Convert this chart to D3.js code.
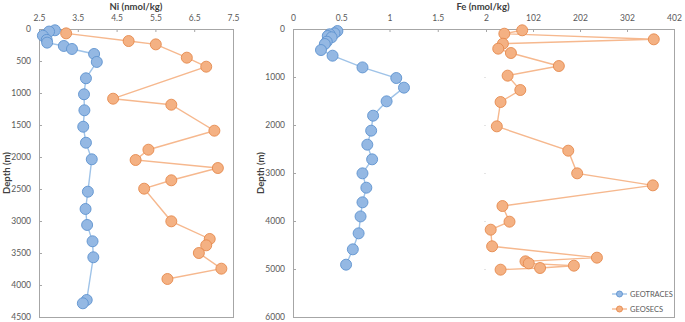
<!DOCTYPE html>
<html>
<head>
<meta charset="utf-8">
<script src="https://cdn.jsdelivr.net/npm/d3@7"></script>
<style>
  body { margin: 0; background: white; }
  text { font-family: Lato, 'Open Sans', sans-serif; }
</style>
</head>
<body>
<div id="container"></div>
<script>
// Ni profile (left panel)
let niTracesDepth = [20, 40, 105, 170, 213, 265, 312, 390, 515, 770, 1020, 1270, 1527, 1777, 2036, 2542, 2812, 3062, 3317, 3567, 4234, 4286];
let niTracesValue = [2.91, 2.76, 2.6, 2.7, 2.71, 3.14, 3.35, 3.92, 3.99, 3.71, 3.66, 3.67, 3.64, 3.71, 3.86, 3.76, 3.70, 3.74, 3.88, 3.90, 3.73, 3.63];
let niSecsDepth = [68, 188, 240, 448, 589, 1089, 1183, 1589, 1886, 2047, 2172, 2364, 2495, 3005, 3281, 3380, 3500, 3745, 3906];
let niSecsValue = [3.2, 4.81, 5.51, 6.31, 6.81, 4.41, 5.91, 7.02, 5.32, 4.99, 7.11, 5.91, 5.21, 5.91, 6.90, 6.81, 6.62, 7.20, 5.81];

// Fe profile (right panel)
let feTracesDepth = [42, 90, 110, 146, 173, 264, 313, 438, 556, 800, 1021, 1222, 1507, 1806, 2118, 2410, 2715, 3007, 3306, 3611, 3905, 4257, 4590, 4910];
let feTracesValue = [0.46, 0.43, 0.38, 0.36, 0.40, 0.35, 0.33, 0.29, 0.41, 0.72, 1.07, 1.15, 0.97, 0.83, 0.81, 0.77, 0.82, 0.72, 0.76, 0.72, 0.70, 0.68, 0.62, 0.55];
let feSecsDepth = [27, 98, 215, 306, 410, 500, 771, 972, 1271, 1521, 2028, 2535, 3007, 3257, 3688, 4014, 4181, 4527, 4764, 4840, 4882, 4931, 4979, 5014];
let feSecsValue = [79, 41, 359, 38, 28, 55, 157, 48, 75, 33, 25, 177, 196, 357, 37, 52, 12, 15, 238, 86, 93, 189, 117, 33];

let niTicks = [2.5, 3.5, 4.5, 5.5, 6.5, 7.5];
let feTicksA = [0, 0.5, 1, 1.5, 2];
let feTicksB = [102, 202, 302, 402];
let niDepthTicks = [0, 500, 1000, 1500, 2000, 2500, 3000, 3500, 4000, 4500];
let feDepthTicks = [0, 1000, 2000, 3000, 4000, 5000, 6000];
let seriesNames = ['GEOTRACES', 'GEOSECS'];

let w = 685;
let h = 322;

let viz = d3.select('#container')
  .append('svg')
    .attr('width', w)
    .attr('height', h)
    .style('background-color', 'white');

let blue = {fill: '#94b8e3', stroke: '#5f93cf', line: '#9fc3e8'};
let orange = {fill: '#f4b183', stroke: '#e58a4e', line: '#f6b88e'};
let gridGrey = '#a6a6a6';
let labelGrey = '#595959';

let plotTop = 29, plotBottom = 317;

// scales
let xNi = d3.scaleLinear().domain([2.5, 7.5]).range([39, 233]);
let yNi = d3.scaleLinear().domain([0, 4500]).range([plotTop, plotBottom]);
let xFeA = d3.scaleLinear().domain([0, 2]).range([293, 486]);
let xFeB = d3.scaleLinear().domain([2, 402]).range([486, 674]);
let yFe = d3.scaleLinear().domain([0, 6000]).range([plotTop, plotBottom]);

function styleAxis(g){
  g.select('.domain').remove();
  g.selectAll('.tick line').attr('stroke', gridGrey);
  g.selectAll('.tick text')
    .attr('fill', labelGrey)
    .style('font-size', '8.5px')
    .style('font-family', 'Lato, sans-serif');
}

function frame(x0, x1){
  viz.append('rect')
    .attr('x', x0 + 0.5).attr('y', plotTop + 0.5)
    .attr('width', x1 - x0).attr('height', plotBottom - plotTop)
    .attr('fill', 'none')
    .attr('stroke', gridGrey)
    .attr('stroke-width', 1);
}

function drawSeries(xs, ys, depth, vals, col){
  let pts = depth.map(function(d, i){ return {d: d, v: vals[i]}; });
  let line = d3.line()
    .x(function(p){ return xs(p.v); })
    .y(function(p){ return ys(p.d); });
  viz.append('path')
    .datum(pts)
    .attr('d', line)
    .attr('fill', 'none')
    .attr('stroke', col.line)
    .attr('stroke-width', 1.4);
  viz.append('g').selectAll('circle')
    .data(pts)
    .enter()
    .append('circle')
      .attr('cx', function(p){ return xs(p.v); })
      .attr('cy', function(p){ return ys(p.d); })
      .attr('r', 5.5)
      .attr('fill', col.fill)
      .attr('stroke', col.stroke)
      .attr('stroke-width', 0.9);
}

// ---- left panel: Ni ----
frame(39, 233);

let niXAxis = viz.append('g')
  .attr('transform', 'translate(0,' + plotTop + ')')
  .call(d3.axisTop(xNi).tickValues(niTicks).tickSizeInner(-3).tickPadding(8).tickFormat(d3.format('.1f')));
styleAxis(niXAxis);

let niYAxis = viz.append('g')
  .attr('transform', 'translate(39,0)')
  .call(d3.axisLeft(yNi).tickValues(niDepthTicks).tickSizeInner(-3).tickPadding(8).tickFormat(d3.format('d')));
styleAxis(niYAxis);

viz.append('text')
  .attr('x', 136).attr('y', 10)
  .attr('text-anchor', 'middle')
  .style('font-size', '9.5px').style('font-weight', 'bold')
  .attr('fill', '#404040')
  .text('Ni (nmol/kg)');

viz.append('text')
  .attr('transform', 'translate(10,173) rotate(-90)')
  .attr('text-anchor', 'middle')
  .style('font-size', '9.5px').style('font-weight', 'bold')
  .attr('fill', '#404040')
  .text('Depth (m)');

drawSeries(xNi, yNi, niTracesDepth, niTracesValue, blue);
drawSeries(xNi, yNi, niSecsDepth, niSecsValue, orange);

// ---- right panel: Fe ----
frame(293, 674);

let feXAxisA = viz.append('g')
  .attr('transform', 'translate(0,' + plotTop + ')')
  .call(d3.axisTop(xFeA).tickValues(feTicksA).tickSizeInner(-3).tickPadding(8).tickFormat(d3.format('~g')));
styleAxis(feXAxisA);

let feXAxisB = viz.append('g')
  .attr('transform', 'translate(0,' + plotTop + ')')
  .call(d3.axisTop(xFeB).tickValues(feTicksB).tickSizeInner(-3).tickPadding(8));
styleAxis(feXAxisB);

let feYAxis = viz.append('g')
  .attr('transform', 'translate(293,0)')
  .call(d3.axisLeft(yFe).tickValues(feDepthTicks).tickSizeInner(-3).tickPadding(8).tickFormat(d3.format('d')));
styleAxis(feYAxis);

// faint secondary depth axis ticks in the middle
let feYAxis2 = viz.append('g')
  .attr('transform', 'translate(486,0)')
  .call(d3.axisLeft(yFe).tickValues(feDepthTicks.slice(1, -1)).tickSizeInner(2).tickFormat(''));
feYAxis2.select('.domain').remove();
feYAxis2.selectAll('.tick line').attr('stroke', '#e4e4e4');

viz.append('text')
  .attr('x', 483).attr('y', 10)
  .attr('text-anchor', 'middle')
  .style('font-size', '9.5px').style('font-weight', 'bold')
  .attr('fill', '#404040')
  .text('Fe (nmol/kg)');

viz.append('text')
  .attr('transform', 'translate(264,173) rotate(-90)')
  .attr('text-anchor', 'middle')
  .style('font-size', '9.5px').style('font-weight', 'bold')
  .attr('fill', '#404040')
  .text('Depth (m)');

drawSeries(xFeA, yFe, feTracesDepth, feTracesValue, blue);
drawSeries(xFeB, yFe, feSecsDepth, feSecsValue, orange);

// legend
let legend = viz.append('g').selectAll('g')
  .data(seriesNames)
  .enter()
  .append('g')
    .attr('transform', function(d, i){ return 'translate(612,' + (294 + i * 15) + ')'; });

legend.append('line')
  .attr('x1', 0).attr('x2', 15)
  .attr('stroke', function(d, i){ return i == 0 ? blue.line : orange.line; })
  .attr('stroke-width', 1.4);
legend.append('circle')
  .attr('cx', 7.5).attr('r', 3)
  .attr('fill', function(d, i){ return i == 0 ? blue.fill : orange.fill; })
  .attr('stroke', function(d, i){ return i == 0 ? blue.stroke : orange.stroke; })
  .attr('stroke-width', 0.9);
legend.append('text')
  .attr('x', 18).attr('y', 3)
  .style('font-size', '7.5px')
  .attr('fill', labelGrey)
  .text(function(d){ return d; });
</script>
</body>
</html>
